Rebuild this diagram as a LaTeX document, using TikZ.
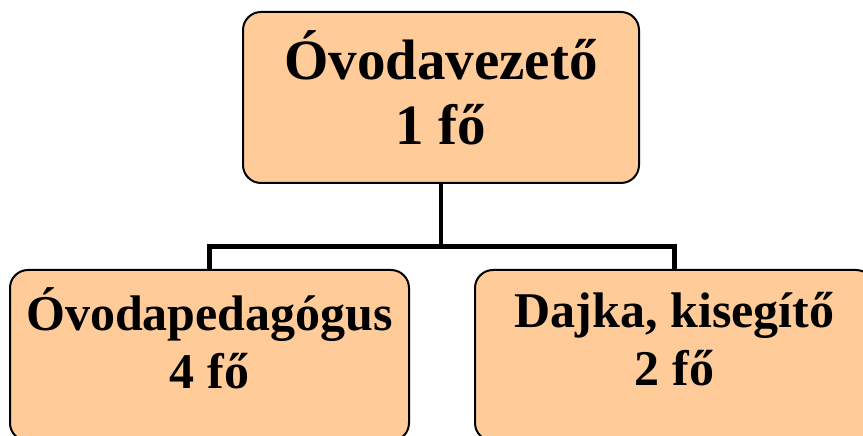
\documentclass[tikz,border=0pt]{standalone}
\usepackage{fontspec}
\setmainfont{Liberation Serif}
\usetikzlibrary{positioning}
\definecolor{peach}{RGB}{255,204,153}

\begin{document}
\begin{tikzpicture}[x=1pt,y=1pt,
	box/.style={draw,line width=2pt,fill=peach,rounded corners=18pt,align=center,inner sep=0pt,minimum height=171pt},
	chief/.style={box,minimum width=396pt,text depth=20pt,font=\fontsize{57}{65}\selectfont\bfseries},
	staff/.style={box,minimum width=399pt,text depth=34pt,font=\fontsize{50}{58}\selectfont\bfseries},
	link/.style={line width=4.5pt}]
	\useasboundingbox (0,0) rectangle (863,436);
	\clip (0,0) rectangle (863,436);
	% boxes
	\node[chief] (vez) at (441,338.5) {Óvodavezető\\1 fő};
	\node[staff] (ped) at (209.5,80.5) {Óvodapedagógus\\4 fő};
	\node[staff] (dajka) at (674.5,80.5) {Dajka, kisegítő\\2 fő};
	% connectors
	\coordinate (split) at (vez.south |- 0,189.5);
	\draw[link] (vez.south)--(split);
	\draw[link] (ped.north) |- (split) -| (dajka.north);
\end{tikzpicture}
\end{document}
